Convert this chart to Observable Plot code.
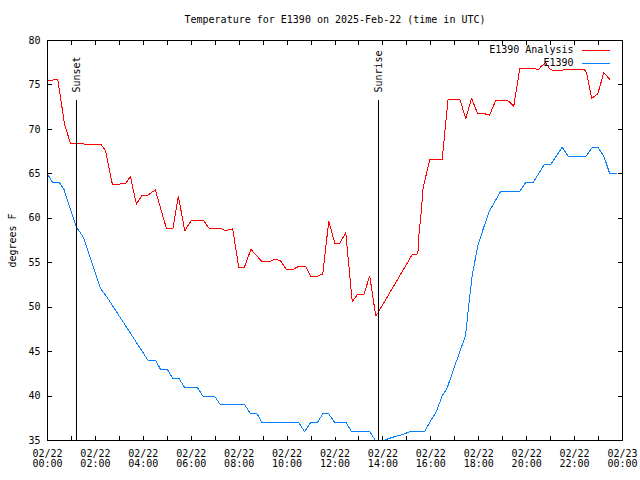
<!DOCTYPE html>
<html><head><meta charset="utf-8">
<script src="https://cdn.jsdelivr.net/npm/d3@7"></script>
<script src="https://cdn.jsdelivr.net/npm/@observablehq/plot@0.6"></script>
<style>body{margin:0;background:#fff}</style>
</head><body><div id="chart"></div>
<script>
const title = "Temperature for E1390 on 2025-Feb-22 (time in UTC)";
const yLabel = "degrees F";
const seriesNames = ["E1390 Analysis", "E1390"];
const seriesColors = ["#ff0000", "#0080ff"];

const analysisHours = [0.00,0.43,0.71,0.96,2.24,2.42,2.71,3.26,3.46,3.71,3.95,4.19,4.50,4.97,5.23,5.46,5.73,6.01,6.50,6.73,7.22,7.43,7.73,7.98,8.22,8.49,8.96,9.24,9.49,9.73,9.98,10.21,10.49,10.77,10.98,11.26,11.49,11.74,11.99,12.20,12.45,12.72,12.93,13.20,13.45,13.70,13.80,15.22,15.46,15.50,15.60,15.68,15.78,15.96,16.47,16.54,16.61,16.72,17.21,17.46,17.70,17.95,18.19,18.45,18.70,19.23,19.46,19.71,20.37,20.48,20.61,20.79,20.99,21.34,21.55,22.41,22.50,22.71,22.97,23.22,23.47];
const analysisTemps = [75.5,75.6,70.6,68.4,68.3,67.6,63.8,63.9,64.7,61.6,62.6,62.6,63.2,58.8,58.8,62.5,58.6,59.8,59.8,58.9,58.9,58.6,58.8,54.5,54.5,56.5,55.1,55.1,55.4,55.2,54.2,54.2,54.6,54.6,53.45,53.45,53.75,59.7,57.2,57.2,58.4,50.6,51.4,51.4,53.5,49.0,49.4,55.9,56.0,58.1,60.7,63.5,64.6,66.6,66.6,68.4,70.4,73.4,73.4,71.2,73.5,71.8,71.8,71.6,73.2,73.2,72.6,76.8,76.8,76.7,77.1,77.5,76.7,76.6,76.7,76.7,76.4,73.5,74.0,76.4,75.6];

const obsHours = [0.00,0.22,0.50,0.68,0.89,1.21,1.49,2.21,2.49,4.20,4.51,4.72,5.00,5.23,5.48,5.72,6.25,6.48,6.97,7.22,8.24,8.47,8.75,8.96,10.49,10.73,10.98,11.26,11.49,11.74,11.99,12.47,12.68,13.45,13.69,14.01,14.45,14.73,15.15,15.74,15.99,16.22,16.47,16.68,16.96,17.45,17.59,17.73,17.96,18.21,18.46,18.91,19.71,19.95,20.27,20.72,20.99,21.48,21.73,22.48,22.75,22.97,23.22,23.47,23.75];
const obsTemps = [65.0,64.0,64.0,63.3,61.6,59.0,57.9,52.1,51.1,44.0,44.0,43.0,43.0,42.0,42.0,41.0,41.0,40.0,40.0,39.0,39.0,38.0,38.0,37.0,37.0,36.0,37.0,37.0,38.0,38.0,37.0,37.0,36.0,36.0,35.0,35.0,35.4,35.6,36.0,36.0,37.2,38.2,40.0,40.9,43.1,46.8,50.4,53.6,56.9,59.0,60.9,63.0,63.0,64.0,64.0,66.0,66.0,68.0,67.0,67.0,68.0,68.0,67.0,65.0,65.0];

const eventNames = ["Sunset", "Sunrise"];
const eventHours = [1.21, 13.82];

const yDomain = [35, 80];
const yTicks = [35, 40, 45, 50, 55, 60, 65, 70, 75, 80];
const xLabelHours = [0, 2, 4, 6, 8, 10, 12, 14, 16, 18, 20, 22, 24];
const xMinorHours = d3.range(0, 25);

const dayStart = Date.UTC(2025, 1, 22);
const t = h => new Date(dayStart + h * 3600000);

const analysis = analysisHours.map((h, i) => ({date: t(h), temp: analysisTemps[i]}));
const obs = obsHours.map((h, i) => ({date: t(h), temp: obsTemps[i]}));
const events = eventNames.map((n, i) => ({name: n, date: t(eventHours[i])}));
const eventTop = yDomain[0] + 0.85 * (yDomain[1] - yDomain[0]);
const fmt = d3.utcFormat("%m/%d\n%H:%M");
const lineShape = {draw(context, l) { context.moveTo(0, 0); context.lineTo(0, -l); }};
const xTickDates = xMinorHours.map(t);
const tickOpts = {length: 4, anchor: "start", shape: lineShape, stroke: "black", strokeWidth: 1, shapeRendering: "crispEdges"};

const chart = Plot.plot({
  width: 640, height: 480,
  marginLeft: 47, marginRight: 18, marginTop: 40, marginBottom: 40,
  style: {fontFamily: "'DejaVu Sans Mono', monospace", fontSize: "10px", background: "white", color: "black"},
  x: {type: "utc", domain: [t(0), t(24)]},
  y: {domain: yDomain},
  marks: [
    Plot.line(analysis, {x: "date", y: "temp", stroke: seriesColors[0], strokeWidth: 1, shapeRendering: "crispEdges"}),
    Plot.line(obs, {x: "date", y: "temp", stroke: seriesColors[1], strokeWidth: 1, shapeRendering: "crispEdges"}),
    Plot.ruleX(events, {x: "date", y1: yDomain[0], y2: eventTop, stroke: "black", strokeWidth: 1, shapeRendering: "crispEdges"}),
    Plot.text(events, {x: "date", y: eventTop, text: "name", rotate: -90, textAnchor: "start", dy: -8, dx: 0.5, fill: "black"}),
    Plot.frame({stroke: "black", strokeWidth: 1, shapeRendering: "crispEdges"}),
    // inward tick marks on all four sides
    Plot.vector(xTickDates, {x: d => d, frameAnchor: "bottom", rotate: 0, ...tickOpts}),
    Plot.vector(xTickDates, {x: d => d, frameAnchor: "top", rotate: 180, ...tickOpts}),
    Plot.vector(yTicks, {y: d => d, frameAnchor: "left", rotate: 90, ...tickOpts}),
    Plot.vector(yTicks, {y: d => d, frameAnchor: "right", rotate: -90, ...tickOpts}),
    // tick labels
    Plot.axisX(xLabelHours.map(t), {anchor: "bottom", tickSize: 0, tickPadding: 9, tickFormat: fmt, lineHeight: 1, label: null}),
    Plot.axisY(yTicks, {anchor: "left", tickSize: 0, tickPadding: 7, label: null}),
    Plot.text([title], {frameAnchor: "top", dy: -21, lineAnchor: "middle", text: d => d, fill: "black"}),
    Plot.text([yLabel], {frameAnchor: "left", dx: -35, rotate: -90, textAnchor: "middle", lineAnchor: "middle", text: d => d, fill: "black"}),
    Plot.text([seriesNames[0]], {frameAnchor: "top-right", dx: -49, dy: 9.5, textAnchor: "end", lineAnchor: "middle", text: d => d, fill: "black"}),
    Plot.text([seriesNames[1]], {frameAnchor: "top-right", dx: -49, dy: 22.5, textAnchor: "end", lineAnchor: "middle", text: d => d, fill: "black"}),
    Plot.vector([seriesNames[0]], {frameAnchor: "top-right", dx: -41, dy: 9.5, length: 28, rotate: 90, anchor: "start", shape: lineShape, stroke: seriesColors[0], strokeWidth: 1, shapeRendering: "crispEdges"}),
    Plot.vector([seriesNames[1]], {frameAnchor: "top-right", dx: -41, dy: 22.5, length: 28, rotate: 90, anchor: "start", shape: lineShape, stroke: seriesColors[1], strokeWidth: 1, shapeRendering: "crispEdges"})
  ]
});
document.getElementById("chart").appendChild(chart);
</script>
</body></html>
